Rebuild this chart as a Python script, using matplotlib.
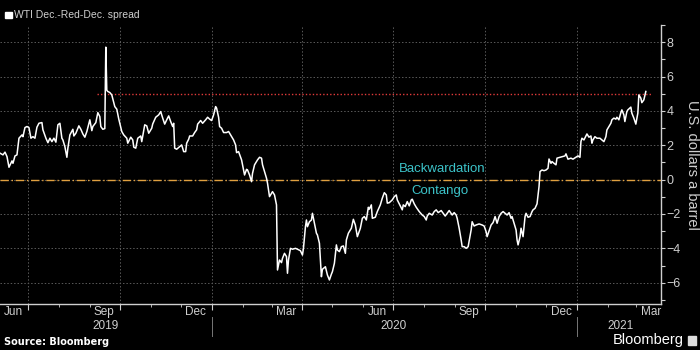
import matplotlib
matplotlib.use("Agg")
import matplotlib.pyplot as plt
import matplotlib.dates as mdates
from matplotlib.ticker import MultipleLocator
import pandas as pd

# WTI Dec.-Red-Dec. spread (day offset from 2019-06-03, USD/bbl)
start = "2019-06-03"
days_since_start = [
    0, 3, 5, 7, 9, 12, 13, 15, 17, 19, 22, 23, 25, 27, 29, 31, 33, 35, 37, 39,
    42, 43, 46, 48, 50, 52, 54, 56, 58, 60, 62, 63, 65, 67, 68, 70, 73, 74, 76, 79,
    81, 83, 85, 87, 90, 92, 93, 96, 98, 100, 101, 103, 105, 106, 107, 108, 110, 112, 115, 117,
    119, 122, 124, 127, 128, 131, 133, 134, 136, 138, 141, 142, 145, 147, 149, 152, 153, 156, 159, 161,
    163, 165, 167, 169, 171, 173, 174, 175, 177, 180, 182, 184, 186, 187, 189, 190, 193, 195, 197, 198,
    201, 203, 206, 208, 210, 212, 214, 216, 217, 219, 220, 222, 224, 227, 229, 232, 234, 236, 237, 239,
    242, 243, 245, 247, 248, 250, 252, 253, 255, 257, 258, 260, 262, 263, 265, 267, 268, 270, 272, 273,
    275, 277, 278, 280, 282, 283, 285, 287, 288, 289, 291, 293, 296, 298, 301, 303, 304, 306, 307, 308,
    310, 312, 313, 315, 317, 318, 320, 322, 323, 326, 328, 330, 332, 333, 335, 337, 338, 340, 342, 344,
    346, 347, 349, 352, 354, 356, 358, 361, 363, 365, 367, 369, 370, 372, 373, 376, 378, 381, 383, 385,
    387, 388, 390, 393, 395, 397, 398, 401, 403, 404, 406, 408, 410, 412, 413, 415, 417, 420, 423, 425,
    427, 428, 430, 433, 435, 437, 439, 442, 443, 446, 448, 450, 453, 455, 457, 458, 460, 462, 463, 465,
    467, 469, 472, 473, 475, 477, 480, 483, 485, 487, 488, 490, 492, 494, 496, 498, 500, 502, 504, 506,
    508, 510, 512, 513, 515, 517, 518, 519, 521, 522, 524, 526, 527, 529, 531, 533, 534, 536, 538, 540,
    541, 543, 545, 547, 549, 550, 552, 553, 555, 557, 558, 561, 563, 566, 567, 569, 572, 574, 577, 579,
    581, 582, 583, 585, 587, 588, 590, 592, 593, 594, 596, 598, 601, 603, 605, 607, 608, 610, 612, 613,
    615, 617, 618, 620, 622, 623, 625, 626, 628, 629, 632, 633, 635, 637, 639, 640, 642, 643, 645, 647,
]
spread = [
    1.54, 1.44, 1.60, 1.34, 0.72, 1.09, 0.95, 1.38, 1.44, 2.41, 2.60, 2.50, 3.03, 3.09, 3.03, 2.41, 2.50, 2.41, 3.05, 3.28,
    3.32, 2.90, 2.41, 2.15, 2.41, 2.21, 2.41, 2.18, 3.19, 3.28, 2.41, 2.31, 1.92, 1.30, 1.83, 2.60, 2.93, 2.54, 2.70, 3.13,
    2.93, 2.66, 2.47, 2.80, 3.48, 2.85, 3.09, 3.32, 3.90, 3.67, 3.09, 2.93, 2.97, 7.71, 5.20, 5.13, 5.07, 4.93, 4.25, 4.10,
    3.52, 2.80, 2.60, 2.41, 2.12, 2.47, 2.31, 1.89, 1.83, 2.41, 2.54, 2.21, 3.19, 3.13, 2.70, 2.99, 3.24, 3.63, 3.77, 3.96,
    3.58, 3.23, 3.48, 3.71, 3.38, 3.09, 3.28, 1.83, 1.77, 1.92, 2.02, 1.63, 1.63, 2.12, 2.35, 2.54, 2.54, 2.74, 2.90, 3.23,
    3.44, 3.28, 3.48, 3.63, 3.52, 3.44, 3.77, 4.25, 4.16, 3.63, 3.09, 2.99, 2.74, 2.74, 2.80, 2.50, 2.31, 2.02, 1.57, 1.63,
    1.15, 0.86, 0.27, 0.60, 0.56, 0.27, -0.12, 0.37, 0.86, 1.05, 1.15, 1.30, 1.25, 0.86, 0.47, 0.08, -0.21, -0.99, -0.79, -0.70,
    -0.89, -1.47, -5.26, -4.68, -4.83, -4.58, -4.29, -4.48, -5.45, -4.68, -4.00, -4.05, -4.00, -4.05, -4.14, -4.39, -4.00, -2.74, -2.35, -2.74,
    -2.45, -2.35, -1.96, -2.54, -3.12, -3.22, -3.70, -5.65, -5.22, -5.07, -5.55, -5.84, -5.50, -5.36, -4.87, -3.80, -4.10, -4.19, -3.90, -3.86,
    -4.29, -3.51, -3.12, -2.83, -2.31, -2.64, -3.32, -2.83, -2.25, -2.15, -2.35, -1.61, -1.72, -1.47, -2.25, -2.19, -1.86, -1.47, -1.08, -0.76,
    -0.89, -1.37, -1.34, -1.18, -0.99, -0.89, -1.18, -1.53, -1.76, -1.47, -1.57, -1.28, -1.53, -1.18, -1.14, -1.41, -1.61, -1.86, -2.06, -2.15,
    -2.35, -2.12, -1.96, -2.06, -1.86, -1.76, -1.92, -1.80, -1.88, -2.12, -1.96, -1.80, -2.06, -1.92, -2.06, -2.25, -2.83, -3.51, -3.90, -3.90,
    -4.00, -3.90, -2.93, -2.45, -2.70, -2.64, -2.58, -2.64, -2.70, -3.03, -3.32, -2.97, -2.64, -2.50, -2.15, -2.54, -2.15, -1.96, -1.86, -1.96,
    -2.06, -1.92, -2.25, -2.15, -2.54, -2.93, -3.51, -3.80, -3.32, -2.83, -3.32, -2.15, -1.96, -2.19, -2.15, -1.86, -1.76, -1.67, -1.41, -0.41,
    0.47, 0.56, 0.52, 0.56, 0.66, 1.20, 0.95, 1.05, 0.95, 0.86, 1.25, 1.30, 1.34, 1.38, 1.50, 1.19, 1.25, 1.19, 1.30, 1.38,
    1.30, 2.21, 2.41, 2.31, 2.54, 2.66, 2.47, 2.54, 2.12, 2.31, 2.50, 2.41, 2.41, 2.31, 2.21, 2.50, 2.89, 3.09, 3.28, 3.48,
    3.58, 3.52, 3.63, 3.48, 3.90, 4.06, 3.77, 3.38, 3.96, 4.06, 4.22, 3.87, 3.58, 3.23, 3.87, 4.93, 4.74, 4.48, 4.64, 5.13,
]

# reference lines
current_level = 5.0
current_from = "2019-09-08"
current_to = "2021-03-17"

month_labels = ["Jun", "Sep", "Dec", "Mar", "Jun", "Sep", "Dec", "Mar"]
month_label_dates = ["2019-06-16", "2019-09-15", "2019-12-16", "2020-03-16",
                     "2020-06-15", "2020-09-15", "2020-12-16", "2021-03-16"]
year_labels = ["2019", "2020", "2021"]
year_label_dates = ["2019-09-17", "2020-07-01", "2021-02-14"]
year_breaks = ["2020-01-01", "2021-01-01"]

dates = pd.Timestamp(start) + pd.to_timedelta(days_since_start, unit="D")

plt.rcParams["font.family"] = ["Liberation Sans", "DejaVu Sans"]
grey = "#cfcfcf"

fig = plt.figure(figsize=(7, 3.5), dpi=100, facecolor="black")
ax = fig.add_axes([0.0, 0.1314, 0.944, 0.7972])
ax.set_facecolor("black")

ax.plot(dates, spread, color="white", lw=1.1, zorder=5)
ax.axhline(0, color="#e0a040", lw=1.0, ls=(0, (6, 2, 1, 2)), zorder=3)
ax.hlines(current_level, pd.Timestamp(current_from), pd.Timestamp(current_to),
          color="#e03a3a", lw=1.0, ls=(0, (1, 1.5)), zorder=3)

ax.text(pd.Timestamp("2020-08-19"), 0.62, "Backwardation", color="#3cc3c9",
        fontsize=9.5, ha="center", va="center")
ax.text(pd.Timestamp("2020-08-17"), -0.65, "Contango", color="#3cc3c9",
        fontsize=9.5, ha="center", va="center")

ax.set_xlim(pd.Timestamp(start), pd.Timestamp("2021-03-26"))
ax.set_ylim(-7.24, 9.0)

# y axis on the right
ax.yaxis.tick_right()
ax.yaxis.set_major_locator(MultipleLocator(2))
ax.yaxis.set_minor_locator(MultipleLocator(1))
ax.tick_params(axis="y", which="both", colors=grey, labelcolor=grey, labelsize=9,
               length=3, width=0.8, pad=1)
fig.text(692 / 700, 1 - 165 / 350, "U.S. dollars a barrel", color=grey,
         fontsize=10.5, rotation=270, ha="center", va="center")

# x axis: quarter ticks with grid, month minor ticks, labels set as text
ax.xaxis.set_major_locator(mdates.MonthLocator(bymonth=[1, 4, 7, 10]))
ax.xaxis.set_minor_locator(mdates.MonthLocator())
ax.xaxis.set_major_formatter(plt.NullFormatter())
ax.tick_params(axis="x", which="major", colors=grey, length=4, width=0.8)
ax.tick_params(axis="x", which="minor", colors=grey, length=2, width=0.6)

ax.grid(True, which="major", color="#5a5a5a", ls=(0, (1.5, 2)), lw=0.7)

for s in ["top", "left"]:
    ax.spines[s].set_visible(False)
for s in ["right", "bottom"]:
    ax.spines[s].set_color(grey)
    ax.spines[s].set_linewidth(1.0)

tr = ax.get_xaxis_transform()
for lab, d in zip(month_labels, month_label_dates):
    ax.text(pd.Timestamp(d), -0.03, lab, transform=tr, color=grey, fontsize=8.5,
            ha="center", va="center")
for lab, d in zip(year_labels, year_label_dates):
    ax.text(pd.Timestamp(d), -0.08, lab, transform=tr, color=grey, fontsize=8.5,
            ha="center", va="center")
for d in year_breaks:
    ax.plot([pd.Timestamp(d)] * 2, [-0.045, -0.115], transform=tr, color="#777777",
            lw=0.7, clip_on=False)

# header and footer
fig.patches.append(plt.Rectangle((5 / 700, 1 - 18 / 350), 6.5 / 700, 6.5 / 350,
                                 transform=fig.transFigure, color="white"))
fig.text(14 / 700, 1 - 15 / 350, "WTI Dec.-Red-Dec. spread", color=grey,
         fontsize=7.5, va="center", ha="left")
fig.text(4 / 700, 1 - 342 / 350, "Source: Bloomberg", color="white",
         family="DejaVu Sans", fontsize=7, fontweight="bold", va="center", ha="left")
fig.text(684 / 700, 1 - 340 / 350, "Bloomberg", color="white",
         fontsize=10.5, va="center", ha="right")
fig.patches.append(plt.Rectangle((688 / 700, 1 - 345 / 350), 8 / 700, 9 / 350,
                                 transform=fig.transFigure, color="#dddddd"))

fig.savefig("out.png", dpi=100, facecolor="black")
